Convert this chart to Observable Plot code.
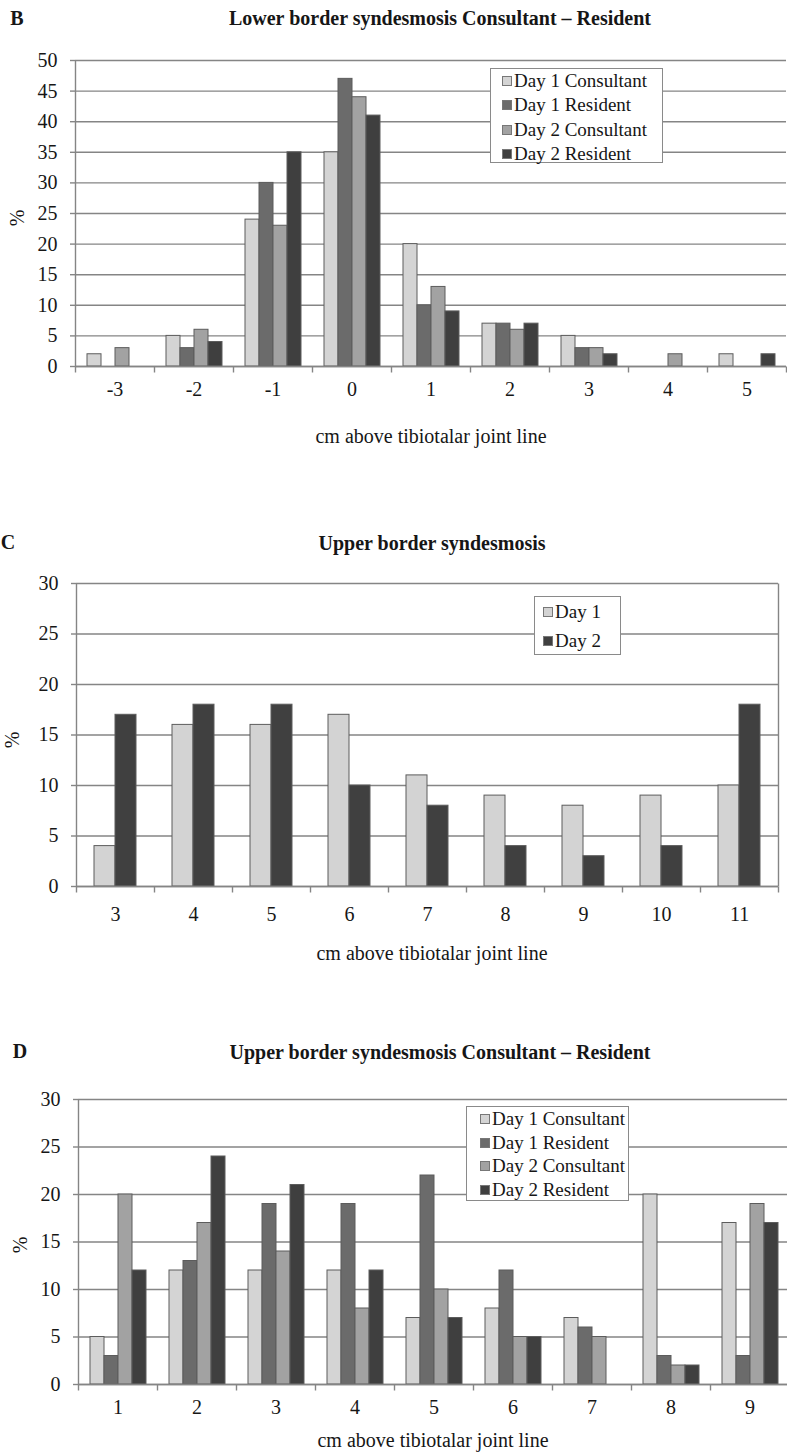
<!DOCTYPE html>
<html>
<head>
<meta charset="utf-8">
<script src="https://cdn.jsdelivr.net/npm/d3@7"></script>
<script src="https://cdn.jsdelivr.net/npm/@observablehq/plot@0.6"></script>
<style>
  html, body { margin: 0; padding: 0; background: #fff; overflow: hidden; }
  #page { position: relative; width: 787px; height: 1452px; font-family: 'Liberation Serif', 'Times New Roman', Times, serif; color: #161616; }
  .t { position: absolute; transform: translate(-50%, -50%); white-space: nowrap; line-height: 1; }
  .legend { position: absolute; background: #fff; border: 1px solid #8a8a8a; box-sizing: border-box; font-size: 19px; }
  .row { display: flex; align-items: center; white-space: nowrap; }
  .sw { width: 8px; height: 8px; border: 1px solid #777; margin-right: 2px; flex: none; }
</style>
</head>
<body>
<div id="page"></div>
<script>
// ---------- Data ----------
// Panel B: Lower border syndesmosis Consultant – Resident
const bCategories = ["-3", "-2", "-1", "0", "1", "2", "3", "4", "5"];
const bSeries = ["Day 1 Consultant", "Day 1 Resident", "Day 2 Consultant", "Day 2 Resident"];
const bDay1Consultant = [2, 5, 24, 35, 20, 7, 5, 0, 2];
const bDay1Resident   = [0, 3, 30, 47, 10, 7, 3, 0, 0];
const bDay2Consultant = [3, 6, 23, 44, 13, 6, 3, 2, 0];
const bDay2Resident   = [0, 4, 35, 41, 9, 7, 2, 0, 2];
const bYTicks = [0, 5, 10, 15, 20, 25, 30, 35, 40, 45, 50];

// Panel C: Upper border syndesmosis
const cCategories = ["3", "4", "5", "6", "7", "8", "9", "10", "11"];
const cSeries = ["Day 1", "Day 2"];
const cDay1 = [4, 16, 16, 17, 11, 9, 8, 9, 10];
const cDay2 = [17, 18, 18, 10, 8, 4, 3, 4, 18];
const cYTicks = [0, 5, 10, 15, 20, 25, 30];

// Panel D: Upper border syndesmosis Consultant – Resident
const dCategories = ["1", "2", "3", "4", "5", "6", "7", "8", "9"];
const dSeries = ["Day 1 Consultant", "Day 1 Resident", "Day 2 Consultant", "Day 2 Resident"];
const dDay1Consultant = [5, 12, 12, 12, 7, 8, 7, 20, 17];
const dDay1Resident   = [3, 13, 19, 19, 22, 12, 6, 3, 3];
const dDay2Consultant = [20, 17, 14, 8, 10, 5, 5, 2, 19];
const dDay2Resident   = [12, 24, 21, 12, 7, 5, 0, 2, 17];
const dYTicks = [0, 5, 10, 15, 20, 25, 30];

const xTitle = "cm above tibiotalar joint line";
const yTitle = "%";

// ---------- Styles ----------
const fourColors = ["#d4d4d4", "#6b6b6b", "#a2a2a2", "#3f3f3f"];
const twoColors = ["#d3d3d3", "#404040"];
const GRID = "#858585";
const BAR_STROKE = "#5c5c5c";
const SERIF = "'Liberation Serif', 'Times New Roman', Times, serif";

const vUp = { draw(ctx, size) { const l = Math.sqrt(size / Math.PI); ctx.moveTo(0, 0); ctx.lineTo(0, -l); } };
const vDown = { draw(ctx, size) { const l = Math.sqrt(size / Math.PI); ctx.moveTo(0, 0); ctx.lineTo(0, l); } };

const page = document.getElementById("page");

function panel(cfg) {
  const { cats, series, values, colors, yTicks, top, height, mt, mb, ml, mr, padOuter, tickPad, border } = cfg;
  const data = cats.flatMap((c, i) => series.map((s, j) => ({ cat: c, series: s, value: values[j][i] })));
  const frameH = height - mt - mb;
  const marks = [
    Plot.gridY(yTicks, { stroke: GRID, strokeOpacity: 1, strokeWidth: 1.4 }),
    Plot.barY(data, {
      fx: "cat", x: "series", y: "value", fill: "series",
      stroke: BAR_STROKE, strokeWidth: 1, filter: d => d.value > 0
    }),
    Plot.ruleY([0], { stroke: GRID, strokeWidth: 1.4 }),
    Plot.dot([cats[0]], { fx: d => d, frameAnchor: "bottom-left", symbol: vUp, r: frameH, fill: "none", stroke: GRID, strokeWidth: 1.4 }),
    Plot.dot(cats, { fx: d => d, frameAnchor: "bottom-left", symbol: vDown, r: 6, fill: "none", stroke: GRID, strokeWidth: 1.4 }),
    Plot.dot([cats[cats.length - 1]], { fx: d => d, frameAnchor: "bottom-right", symbol: vDown, r: 6, fill: "none", stroke: GRID, strokeWidth: 1.4 }),
    Plot.axisY(yTicks, { tickSize: 5, tickPadding: 13, stroke: GRID, strokeWidth: 1.4, label: null, fontFamily: SERIF }),
    Plot.axisFx({ anchor: "bottom", tickSize: 0, tickPadding: tickPad, label: null, tickFormat: d => d, fontFamily: SERIF })
  ];
  if (border) {
    marks.push(Plot.dot([cats[cats.length - 1]], { fx: d => d, frameAnchor: "bottom-right", symbol: vUp, r: frameH, fill: "none", stroke: GRID, strokeWidth: 1.4 }));
  }
  const svg = Plot.plot({
    width: 787,
    height,
    marginTop: mt,
    marginBottom: mb,
    marginLeft: ml,
    marginRight: mr,
    style: { fontFamily: SERIF, fontSize: "20px", color: "#161616", background: "transparent", overflow: "hidden" },
    fx: { domain: cats, padding: 0 },
    x: { domain: series, paddingInner: 0, paddingOuter: padOuter, axis: null },
    y: { domain: [0, yTicks[yTicks.length - 1]] },
    color: { domain: series, range: colors },
    marks
  });
  svg.style.position = "absolute";
  svg.style.left = "0px";
  svg.style.top = top + "px";
  page.appendChild(svg);
}

function text(str, x, y, size, bold, rotate) {
  const el = document.createElement("div");
  el.className = "t";
  el.textContent = str;
  el.style.left = x + "px";
  el.style.top = y + "px";
  el.style.fontSize = size + "px";
  if (bold) el.style.fontWeight = "bold";
  if (rotate) el.style.transform = "translate(-50%, -50%) rotate(-90deg)";
  page.appendChild(el);
}

function legend(series, colors, left, top, w, h, rowH, padTop, padLeft) {
  const box = document.createElement("div");
  box.className = "legend";
  Object.assign(box.style, { left: left + "px", top: top + "px", width: w + "px", height: h + "px", paddingTop: padTop + "px", paddingLeft: padLeft + "px" });
  series.forEach((s, i) => {
    const row = document.createElement("div");
    row.className = "row";
    row.style.height = rowH + "px";
    const sw = document.createElement("span");
    sw.className = "sw";
    sw.style.background = colors[i];
    const lab = document.createElement("span");
    lab.textContent = s;
    row.appendChild(sw);
    row.appendChild(lab);
    box.appendChild(row);
  });
  page.appendChild(box);
}

// ---------- Panel B ----------
panel({
  cats: bCategories, series: bSeries,
  values: [bDay1Consultant, bDay1Resident, bDay2Consultant, bDay2Resident],
  colors: fourColors, yTicks: bYTicks,
  top: 0, height: 500, mt: 60, mb: 134, ml: 73, mr: 0, padOuter: 0.7, tickPad: 15
});
text("B", 17, 18, 20, true);
text("Lower border syndesmosis Consultant \u2013 Resident", 440, 18, 20, true);
text(yTitle, 17, 218, 20, false, true);
text(xTitle, 431, 436, 20);
legend(bSeries, fourColors, 490, 68, 173, 95, 24.3, 0, 11);

// ---------- Panel C ----------
panel({
  cats: cCategories, series: cSeries,
  values: [cDay1, cDay2],
  colors: twoColors, yTicks: cYTicks,
  top: 500, height: 490, mt: 83, mb: 104, ml: 73, mr: 6, padOuter: 0.8, tickPad: 20, border: true
});
text("C", 8, 542, 20, true);
text("Upper border syndesmosis", 432, 543, 20, true);
text(yTitle, 12, 740, 20, false, true);
text(xTitle, 432, 953, 20);
legend(cSeries, twoColors, 534, 596, 87, 59, 29, 0, 8);

// ---------- Panel D ----------
panel({
  cats: dCategories, series: dSeries,
  values: [dDay1Consultant, dDay1Resident, dDay2Consultant, dDay2Resident],
  colors: fourColors, yTicks: dYTicks,
  top: 990, height: 462, mt: 109, mb: 68, ml: 74, mr: -5, padOuter: 0.72, tickPad: 15
});
text("D", 20, 1051, 20, true);
text("Upper border syndesmosis Consultant \u2013 Resident", 440, 1052, 20, true);
text(yTitle, 20, 1245, 20, false, true);
text(xTitle, 433, 1440, 20);
legend(dSeries, fourColors, 466, 1106, 163, 95, 23.7, 0, 13);
</script>
</body>
</html>
